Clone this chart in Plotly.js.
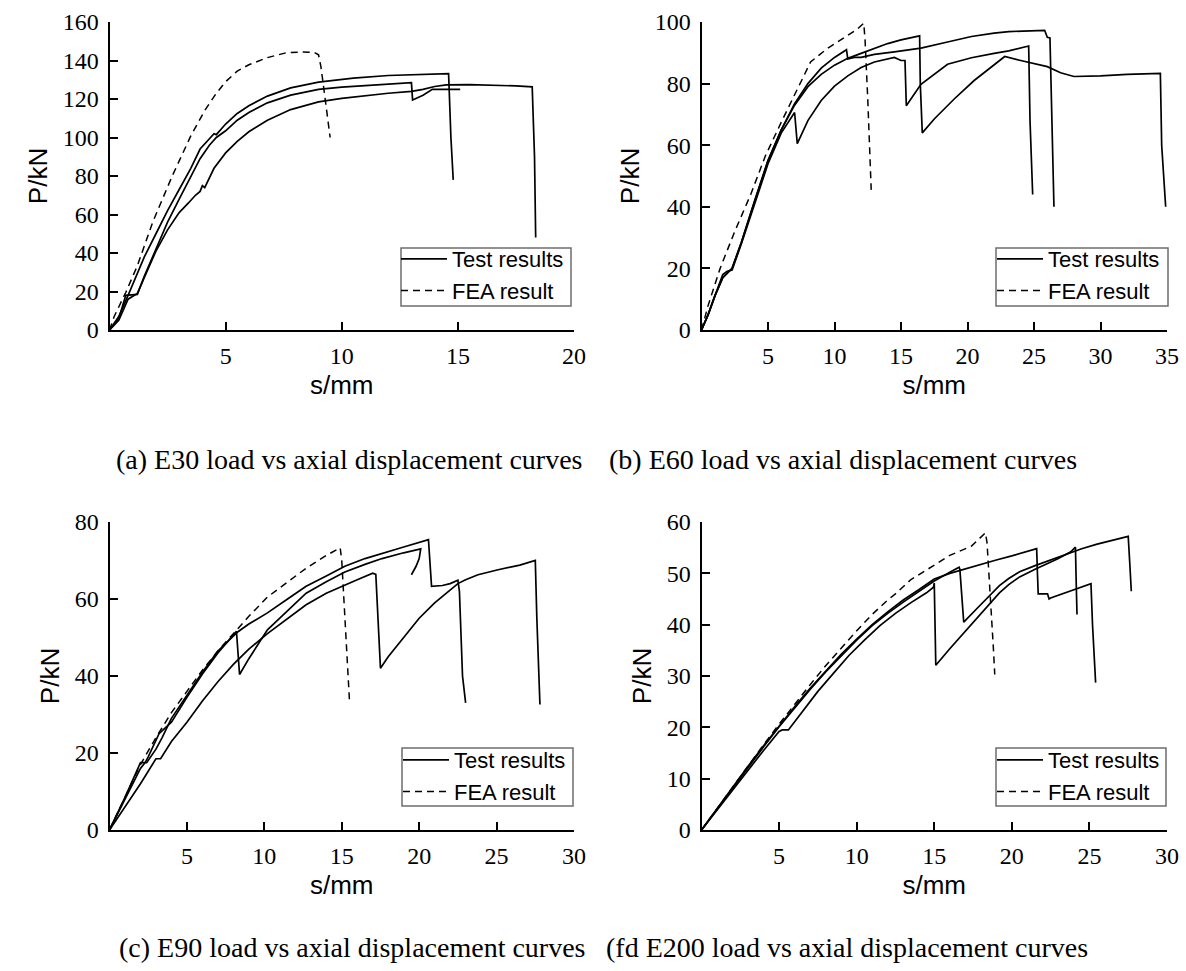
<!DOCTYPE html>
<html>
<head>
<meta charset="utf-8">
<script src="https://cdn.plot.ly/plotly-3.0.1.min.js"></script>
<style>html,body{margin:0;padding:0;background:#fff;}#chart{width:1186px;height:971px;}</style>
</head>
<body>
<div id="chart"></div>
<script>
// ---------- Panel (a) E30 ----------
const a_t1_x = [0, 0.4, 0.8, 1.1, 1.5, 2.0, 2.5, 3.0, 3.5, 3.9, 4.3, 4.5, 4.6, 5.0, 5.5, 6.0, 6.8, 7.8, 9.0, 10.5, 12.0, 13.5, 14.6, 14.7, 14.8];
const a_t1_y = [0, 7, 18, 27, 38, 50, 62, 73, 84, 94, 99, 102, 101.5, 107, 112.5, 116.5, 121.5, 125.8, 128.8, 130.8, 132.2, 133, 133.2, 100, 78];
const a_t2_x = [0, 0.4, 0.7, 1.2, 1.5, 2.0, 2.5, 3.0, 3.5, 3.9, 4.3, 4.6, 5.0, 5.5, 6.0, 6.8, 7.8, 9.0, 10.0, 11.0, 12.0, 13.0, 13.05, 13.5, 13.9, 14.5, 15.1];
const a_t2_y = [0, 6, 18, 18.5, 28, 42, 56, 68, 80, 89, 96, 100, 103.5, 109, 113, 118, 122, 125, 126.2, 127, 127.8, 128.5, 119.5, 122, 125, 125, 125];
const a_t3_x = [0, 0.4, 0.8, 1.2, 1.6, 2.0, 2.5, 3.0, 3.4, 3.7, 3.9, 4.0, 4.1, 4.5, 5.0, 5.5, 6.0, 6.8, 7.8, 9.0, 10.0, 11.0, 12.0, 13.0, 13.5, 14.0, 14.5, 15.5, 16.5, 17.5, 18.2, 18.3, 18.35];
const a_t3_y = [0, 5, 16, 19, 30, 41, 52, 61, 66, 70, 72, 75, 74, 84, 92, 98, 103, 109, 114.5, 118.5, 120.3, 121.8, 123, 124, 125, 126.5, 127.3, 127.5, 127.3, 126.8, 126.3, 90, 48];
const a_fea_x = [0, 0.2, 0.7, 1.2, 1.86, 2.7, 3.5, 4.1, 4.6, 5.0, 5.5, 6.0, 6.8, 7.6, 8.2, 8.8, 9.0, 9.1, 9.2, 9.3, 9.4, 9.5];
const a_fea_y = [0, 7, 19.5, 33.4, 56, 80, 100.8, 114, 123, 129, 134.5, 137.8, 141.5, 144, 144.4, 144.3, 143, 137, 128, 118, 109, 100];

// ---------- Panel (b) E60 ----------
const b_t1_x = [0, 0.5, 1.0, 1.6, 1.9, 2.3, 3.0, 4.0, 5.0, 6.0, 6.8, 7.0, 7.2, 8.0, 9.0, 10.0, 11.0, 12.0, 13.0, 14.0, 14.5, 15.0, 15.3, 15.4, 16.5, 18.5, 20.3, 22.0, 23.1, 24.6, 24.65, 24.7, 24.9];
const b_t1_y = [0, 5, 11, 18, 19, 19.5, 28, 41, 54, 64, 69.5, 70.6, 60.5, 68, 74.5, 79.2, 82.5, 85.2, 87, 88, 88.5, 87.5, 87.5, 72.8, 79.8, 86.3, 88.4, 89.8, 90.6, 92.2, 68, 68, 44];
const b_t2_x = [0, 0.5, 1.0, 1.6, 2.3, 3.0, 4.0, 5.0, 6.0, 7.0, 8.0, 9.0, 10.0, 10.9, 11.0, 11.5, 12.0, 13.0, 14.5, 16.5, 18.5, 20.3, 22.0, 23.1, 25.8, 26.0, 26.2, 26.4, 26.5];
const b_t2_y = [0, 5, 11, 17, 20, 28.5, 42, 55, 65, 73.5, 80, 85, 88.5, 91, 88, 88.5, 88.5, 89.5, 90.3, 91.5, 93.5, 95.3, 96.4, 96.9, 97.3, 95, 94.8, 60, 40];
const b_t3_x = [0, 0.5, 1.0, 1.6, 2.3, 3.0, 4.0, 5.0, 6.0, 7.0, 8.0, 9.0, 10.0, 11.0, 12.0, 13.0, 14.0, 15.0, 16.4, 16.45, 16.6, 17.5, 19.0, 20.5, 22.0, 22.8, 24.0, 25.0, 26.0, 27.0, 28.0, 30.0, 32.0, 34.5, 34.6, 34.9];
const b_t3_y = [0, 5, 11, 17, 20, 28.5, 42, 55, 65, 73, 79, 83, 86, 88.2, 89.8, 91.5, 93, 94.2, 95.5, 80, 64, 68.5, 75, 81, 86, 88.8, 87.5, 86.5, 85.5, 83.5, 82.3, 82.5, 83, 83.3, 60, 40];
const b_fea_x = [0, 0.5, 1.4, 2.5, 3.7, 4.8, 6.0, 7.1, 8.2, 9.4, 10.5, 11.7, 12.2, 12.3, 12.5, 12.76];
const b_fea_y = [0, 8, 20, 32, 44, 56.5, 67.5, 77.5, 87, 91.2, 94.4, 97.6, 99.6, 94, 75, 45.5];

// ---------- Panel (c) E90 ----------
const c_t1_x = [0, 1.0, 2.0, 2.3, 2.5, 3.2, 3.6, 4.0, 5.0, 6.0, 7.0, 8.0, 8.2, 8.4, 9.0, 10.2, 11.5, 12.7, 14.0, 15.2, 16.5, 17.6, 19.0, 20.1, 20.0, 19.8, 19.5];
const c_t1_y = [0, 8, 16, 17.5, 19, 25, 26.5, 28, 34.5, 40.5, 46, 50.5, 51.6, 40.4, 44.5, 52, 57, 61.5, 64.5, 67, 69, 70.5, 72, 73, 70.5, 68.5, 66.3];
const c_t2_x = [0, 1.0, 2.0, 2.4, 3.0, 3.4, 4.0, 5.0, 6.0, 7.0, 8.0, 8.3, 9.0, 10.2, 11.5, 12.7, 14.0, 15.2, 16.5, 17.6, 19.0, 20.6, 20.7, 20.8, 21.5, 22.0, 22.5, 22.6, 22.8, 23.0];
const c_t2_y = [0, 8.5, 17.5, 17.5, 21, 24, 29, 35, 41, 46.5, 50.5, 51.5, 53.5, 56.4, 60, 63.3, 66, 68.5, 70.5, 71.9, 73.5, 75.4, 70, 63.3, 63.5, 64, 64.9, 62, 40, 33];
const c_t3_x = [0, 1.0, 2.0, 3.0, 3.3, 4.0, 5.0, 6.0, 7.0, 8.0, 9.0, 10.2, 11.5, 12.7, 14.0, 15.2, 16.0, 17.0, 17.2, 17.5, 18.0, 19.0, 20.0, 21.0, 22.0, 22.5, 23.0, 23.8, 25.1, 26.5, 27.5, 27.6, 27.8];
const c_t3_y = [0, 6, 12, 18.5, 18.5, 23, 28, 33.5, 38.5, 43, 47, 51, 55, 58.5, 61.5, 63.7, 65, 66.7, 66.4, 42, 45, 50, 55, 59, 62.5, 64, 65, 66.3, 67.6, 68.8, 70, 55, 32.6];
const c_fea_x = [0, 1.0, 2.0, 3.0, 4.0, 5.0, 6.0, 7.0, 8.2, 9.0, 10.2, 11.5, 12.7, 14.0, 14.9, 15.0, 15.2, 15.4, 15.5];
const c_fea_y = [0, 8.5, 17, 24, 30.5, 36, 41.5, 46.5, 52, 55.5, 60.5, 64.5, 68, 71.3, 73.3, 70, 55, 40, 33.5];

// ---------- Panel (d) E200 ----------
const d_t1_x = [0, 1, 2, 3, 4, 5, 5.2, 5.6, 6.5, 7.5, 8.5, 9.5, 10.5, 11.5, 12.5, 13.5, 14.5, 14.95, 15.0, 15.1, 16.0, 16.9, 17.8, 18.6, 19.2, 19.8, 20.5, 21.5, 22.3, 23.0, 23.8, 24.1, 24.15, 24.2];
const d_t1_y = [0, 3.9, 7.8, 11.7, 15.5, 19.2, 19.5, 19.5, 23, 27, 30.5, 34, 37, 39.8, 42.2, 44.3, 46.2, 47.3, 48.1, 32.1, 35.3, 38.4, 41.3, 44.2, 46.2, 47.8, 49.3, 50.8, 51.9, 52.9, 54.2, 55.1, 48, 42];
const d_t2_x = [0, 1, 2, 3, 4, 5, 6, 7, 8, 9, 10, 11, 12, 13, 14, 15, 16, 16.6, 16.65, 16.9, 17.8, 18.6, 19.2, 19.8, 20.5, 21.5, 22.5, 23.5, 24.5, 25.5, 26.5, 27.5, 27.6, 27.7];
const d_t2_y = [0, 4.1, 8.2, 12.2, 16.2, 20.1, 23.8, 27.4, 30.8, 34, 37, 39.8, 42.2, 44.4, 46.4, 48.5, 50.2, 51.2, 50.8, 40.5, 43.3, 45.8, 47.6, 49, 50.3, 51.5, 52.6, 53.7, 54.8, 55.7, 56.5, 57.2, 52, 46.5];
const d_t3_x = [0, 1, 2, 3, 4, 5, 6, 7, 8, 9, 10, 11, 12, 13, 14, 15, 16, 17, 18, 19, 20, 21, 21.6, 21.65, 21.7, 22.3, 22.4, 22.5, 23.5, 24.5, 25.1, 25.2, 25.4];
const d_t3_y = [0, 4.2, 8.3, 12.4, 16.4, 20.3, 24, 27.6, 31, 34.2, 37.2, 40, 42.5, 44.8, 46.8, 48.9, 50, 50.9, 51.8, 52.6, 53.4, 54.2, 54.8, 50, 46, 46, 45, 45.2, 46.3, 47.4, 48, 40, 28.7];
const d_fea_x = [0, 1, 2, 3, 4, 5, 6, 7, 8, 9, 10, 11, 12, 12.5, 13.5, 14.9, 16, 17.4, 18.3, 18.4, 18.6, 18.8, 18.9];
const d_fea_y = [0, 4.2, 8.4, 12.5, 16.6, 20.6, 24.5, 28.3, 32, 35.5, 38.8, 42, 44.8, 46, 48.8, 51.4, 53.5, 55.3, 57.9, 56, 46.8, 36, 30.3];

// ---------- labels ----------
const xRanges = [20, 35, 30, 30];
const xTicks = [[5, 10, 15, 20], [5, 10, 15, 20, 25, 30, 35], [5, 10, 15, 20, 25, 30], [5, 10, 15, 20, 25, 30]];
const yRanges = [160, 100, 80, 60];
const yDticks = [20, 20, 20, 10];
const xTitle = 's/mm';
const yTitle = 'P/kN';
const testName = 'Test results';
const feaName = 'FEA result';
const captions = [
  '(a) E30 load vs axial displacement curves',
  '(b) E60 load vs axial displacement curves',
  '(c) E90 load vs axial displacement curves',
  '(fd E200 load vs axial displacement curves'
];

const panels = [
  {tests: [[a_t1_x, a_t1_y], [a_t2_x, a_t2_y], [a_t3_x, a_t3_y]], fea: [a_fea_x, a_fea_y]},
  {tests: [[b_t1_x, b_t1_y], [b_t2_x, b_t2_y], [b_t3_x, b_t3_y]], fea: [b_fea_x, b_fea_y]},
  {tests: [[c_t1_x, c_t1_y], [c_t2_x, c_t2_y], [c_t3_x, c_t3_y]], fea: [c_fea_x, c_fea_y]},
  {tests: [[d_t1_x, d_t1_y], [d_t2_x, d_t2_y], [d_t3_x, d_t3_y]], fea: [d_fea_x, d_fea_y]}
];

const W = 1186, H = 971;
const xDom = [[109.5 / W, 574 / W], [701.5 / W, 1167 / W]];
const yDom = [[1 - 330 / H, 1 - 22 / H], [1 - 830 / H, 1 - 522 / H]];
// legend frame boxes [x0, y0, x1, y1] in px and legend anchor (left, top) in px
const legendBox = [[401, 248, 571, 306], [996, 248, 1168, 306], [402, 748, 573, 806], [996, 748, 1166, 806]];
const legendAnchor = [[396, 238], [992, 238], [398, 739], [992, 739]];
const captionPos = [[349, 459], [843, 459], [352, 947], [847, 947]];

const traces = [];
const layout = {
  width: W, height: H,
  margin: {l: 0, r: 0, t: 0, b: 0},
  paper_bgcolor: '#ffffff', plot_bgcolor: '#ffffff',
  showlegend: true,
  annotations: [],
  shapes: []
};

panels.forEach((p, i) => {
  const sfx = i === 0 ? '' : String(i + 1);
  const xa = 'x' + sfx, ya = 'y' + sfx;
  const lg = 'legend' + sfx;
  p.tests.forEach((t, k) => {
    traces.push({
      x: t[0], y: t[1], xaxis: xa, yaxis: ya, type: 'scatter', mode: 'lines',
      name: testName, legend: lg, legendgroup: 'test' + i, showlegend: k === 0,
      line: {color: '#000', width: 1.7}, hoverinfo: 'skip'
    });
  });
  traces.push({
    x: p.fea[0], y: p.fea[1], xaxis: xa, yaxis: ya, type: 'scatter', mode: 'lines',
    name: feaName, legend: lg, legendgroup: 'fea' + i, showlegend: true,
    line: {color: '#000', width: 1.5, dash: '7px,5px'}, hoverinfo: 'skip'
  });
  const col = i % 2, row = Math.floor(i / 2);
  const common = {
    showline: true, linecolor: '#000', linewidth: 2, mirror: false,
    ticks: 'inside', ticklen: 8, tickwidth: 2, tickcolor: '#000',
    showgrid: false, zeroline: false,
    tickfont: {family: 'Liberation Serif, Times New Roman, serif', size: 24, color: '#000'}
  };
  layout['xaxis' + sfx] = Object.assign({}, common, {
    domain: xDom[col], anchor: ya, range: [0, xRanges[i]],
    tickmode: 'array', tickvals: xTicks[i], ticktext: xTicks[i].map(String),
    ticklabelstandoff: 3,
    title: {text: xTitle, font: {family: 'Liberation Sans, Arial, sans-serif', size: 26, color: '#000'}, standoff: 8}
  });
  layout['yaxis' + sfx] = Object.assign({}, common, {
    domain: yDom[row], anchor: xa, range: [0, yRanges[i]],
    tick0: 0, dtick: yDticks[i], ticklabelstandoff: 4,
    title: {text: yTitle, font: {family: 'Liberation Sans, Arial, sans-serif', size: 26, color: '#000'}, standoff: 8}
  });
  layout[lg] = {
    x: legendAnchor[i][0] / W, y: 1 - legendAnchor[i][1] / H, xanchor: 'left', yanchor: 'top',
    xref: 'paper', yref: 'paper',
    bgcolor: 'rgba(255,255,255,0)', borderwidth: 0,
    font: {family: 'Liberation Sans, Arial, sans-serif', size: 22, color: '#000'},
    itemwidth: 46, tracegroupgap: 0, traceorder: 'normal'
  };
  const b = legendBox[i];
  layout.shapes.push({
    type: 'rect', xref: 'paper', yref: 'paper', layer: 'below',
    x0: b[0] / W, x1: b[2] / W, y0: 1 - b[3] / H, y1: 1 - b[1] / H,
    line: {color: '#6e6e6e', width: 1.5}, fillcolor: '#ffffff'
  });
  layout.annotations.push({
    text: captions[i], xref: 'paper', yref: 'paper', showarrow: false,
    x: captionPos[i][0] / W, y: 1 - captionPos[i][1] / H, xanchor: 'center', yanchor: 'middle',
    font: {family: 'Liberation Serif, Times New Roman, serif', size: 28, color: '#000'}
  });
});

Plotly.newPlot('chart', traces, layout, {staticPlot: true, displayModeBar: false});
</script>
</body>
</html>
